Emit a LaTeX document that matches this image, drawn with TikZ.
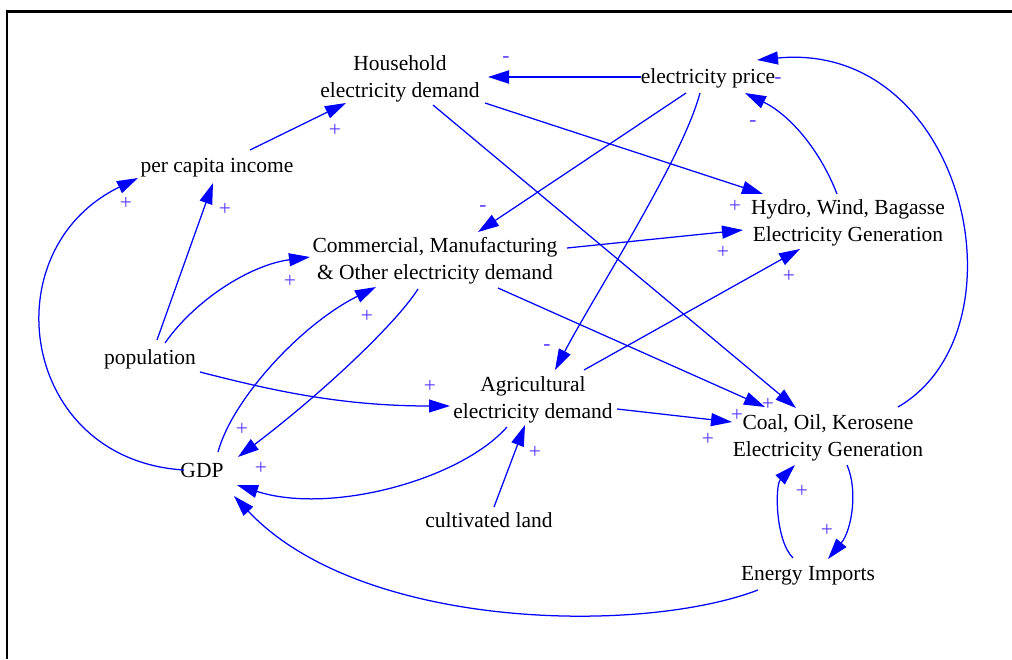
\documentclass[tikz,border=0pt]{standalone}
\usepackage{fontspec}
\setmainfont{Liberation Serif}
\usetikzlibrary{arrows.meta}
\definecolor{ln}{RGB}{0,0,255}
\definecolor{pol}{RGB}{85,55,255}
\begin{document}
\begin{tikzpicture}[x=1pt,y=-1pt,
  var/.style={align=center,inner sep=0pt,font=\fontsize{21.5}{27}\selectfont},
  link/.style={draw=ln,line width=1.25pt,-{Triangle[length=21pt,width=13pt]}},
  pl/.style={text=pol,inner sep=0pt,font=\fontsize{21.5}{27}\selectfont}]
\useasboundingbox (0,0) rectangle (1012,659);
\draw[line width=2.5pt] (1012,11.5) -- (7,11.5) -- (7,659);

% variables
\node[var] (hh) at (400,79) {Household\\electricity demand};
\node[var] (price) at (708,78) {electricity price};
\node[var] (pci) at (217,168) {per capita income};
\node[var] (comm) at (435,261) {Commercial, Manufacturing\\\& Other electricity demand};
\node[var] (hydro) at (848,223) {Hydro, Wind, Bagasse\\Electricity Generation};
\node[var] (pop) at (150,359) {population};
\node[var] (agri) at (533,400) {Agricultural\\electricity demand};
\node[var] (coal) at (828,438) {Coal, Oil, Kerosene\\Electricity Generation};
\node[var] (gdp) at (202,470) {GDP};
\node[var] (land) at (489,520) {cultivated land};
\node[var] (imp) at (808,576) {Energy Imports};

% links
\draw[link,line width=2pt] ([shift={(-67,-1)}]price.center) -- ([shift={(88,-2)}]hh.center);
\draw[link] ([shift={(33,-18)}]pci.center) -- ([shift={(-54,24)}]hh.center);
\draw[link] ([shift={(7,-19)}]pop.center) -- ([shift={(-4,15)}]pci.center);
\draw[link] ([shift={(-18,0)}]gdp.center) .. controls (20,460) and (-10,250) .. ([shift={(-79,10)}]pci.center);
\draw[link] ([shift={(15,-16)}]pop.center) .. controls (195,300) and (250,265) .. ([shift={(-125,-4)}]comm.center);
\draw[link] ([shift={(16,-18)}]gdp.center) .. controls (232,400) and (300,325) .. ([shift={(-59,26)}]comm.center);
\draw[link] ([shift={(-17,28)}]comm.center) .. controls (395,325) and (320,395) .. ([shift={(36,-13)}]gdp.center);
\draw[link] ([shift={(50,13)}]pop.center) .. controls (270,390) and (340,406) .. ([shift={(-83,6)}]agri.center);
\draw[link] ([shift={(-22,15)}]price.center) -- ([shift={(43,-29)}]comm.center);
\draw[link] ([shift={(-8,15)}]price.center) .. controls (682,160) and (596,292) .. ([shift={(22,-30)}]agri.center);
\draw[link] ([shift={(85,24)}]hh.center) -- ([shift={(-85,-29)}]hydro.center);
\draw[link] ([shift={(33,26)}]hh.center) -- ([shift={(-32,-30)}]coal.center);
\draw[link] ([shift={(132,-13)}]comm.center) -- ([shift={(-105,7)}]hydro.center);
\draw[link] ([shift={(63,27)}]comm.center) -- ([shift={(-63,-31)}]coal.center);
\draw[link] ([shift={(51,-30)}]agri.center) -- ([shift={(-48,26)}]hydro.center);
\draw[link] ([shift={(84,9)}]agri.center) -- ([shift={(-96,-16)}]coal.center);
\draw[link] ([shift={(-26,27)}]agri.center) .. controls (460,480) and (330,515) .. ([shift={(35,15)}]gdp.center);
\draw[link] ([shift={(5,-13)}]land.center) -- ([shift={(-8,25)}]agri.center);
\draw[link] ([shift={(-50,14)}]imp.center) .. controls (640,635) and (360,630) .. ([shift={(32,26)}]gdp.center);
\draw[link] ([shift={(-15,-18)}]imp.center) .. controls (775,540) and (775,485) .. ([shift={(-33,27)}]coal.center);
\draw[link] ([shift={(19,27)}]coal.center) .. controls (858,490) and (852,530) .. ([shift={(20,-17)}]imp.center);
\draw[link] ([shift={(70,-31)}]coal.center) .. controls (1030,330) and (965,40) .. ([shift={(49,-18)}]price.center);
\draw[link] ([shift={(-11,-29)}]hydro.center) .. controls (820,150) and (790,115) .. ([shift={(37,15)}]price.center);

% polarities
\node[pl] (p1) at (506,60) {-};
\node[pl] (p2) at (335,130) {+};
\node[pl] (p3) at (225,209) {+};
\node[pl] (p4) at (126,203) {+};
\node[pl] (p5) at (290,281) {+};
\node[pl] (p6) at (367,316) {+};
\node[pl] (p7) at (242,429) {+};
\node[pl] (p8) at (261,468) {+};
\node[pl] (p9) at (430,386) {+};
\node[pl] (p10) at (483,209) {-};
\node[pl] (p11) at (547,348) {-};
\node[pl] (p12) at (735,206) {+};
\node[pl] (p13) at (723,252) {+};
\node[pl] (p14) at (789,276) {+};
\node[pl] (p15) at (768,404) {+};
\node[pl] (p16) at (737,415) {+};
\node[pl] (p17) at (708,439) {+};
\node[pl] (p18) at (535,452) {+};
\node[pl] (p19) at (802,491) {+};
\node[pl] (p20) at (827,530) {+};
\node[pl] (p21) at (753,124) {-};
\node[pl] (p22) at (778,81) {-};
\end{tikzpicture}
\end{document}
